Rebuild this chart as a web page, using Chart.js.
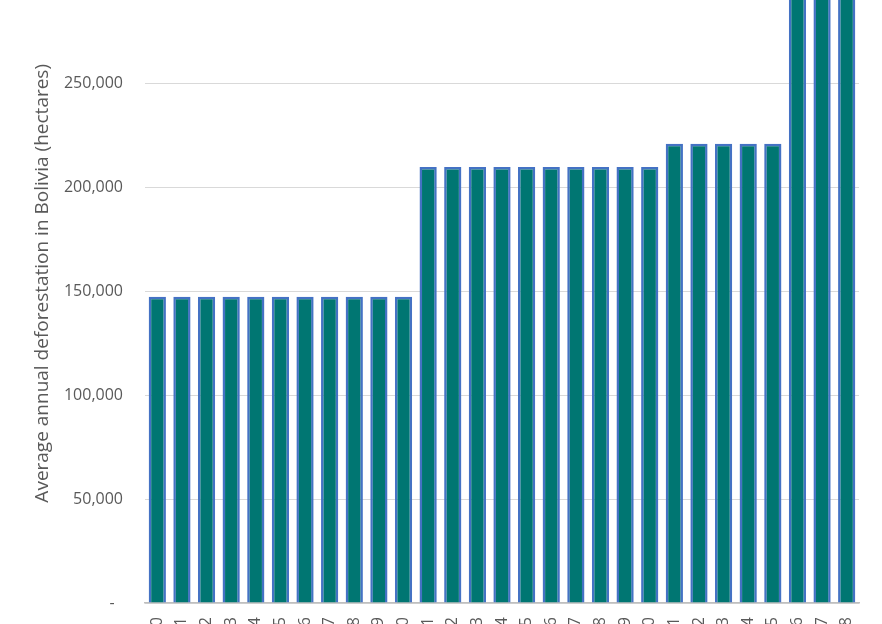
<!DOCTYPE html>
<html>
<head>
<meta charset="utf-8">
<script src="https://cdn.jsdelivr.net/npm/chart.js@4.4.0/dist/chart.umd.min.js"></script>
<style>
  html, body { margin: 0; padding: 0; background: #fff; }
  #frame { position: relative; width: 882px; height: 624px; overflow: hidden; }
  #wrap { position: absolute; left: 0; top: -68px; width: 882px; height: 748px; }
</style>
</head>
<body>
<div id="frame"><div id="wrap"><canvas id="graphCanvas"></canvas></div></div>
<script>
// years 1990 - 2018
var years = [];
for (var y = 1990; y <= 2018; y++) { years.push(String(y)); }

// average annual deforestation (hectares), per period
var deforestation = [
    147400, 147400, 147400, 147400, 147400, 147400, 147400, 147400, 147400, 147400, 147400,
    209800, 209800, 209800, 209800, 209800, 209800, 209800, 209800, 209800, 209800,
    221000, 221000, 221000, 221000, 221000,
    350000, 350000, 350000
];

var yTicks = [0, 50000, 100000, 150000, 200000, 250000, 300000];
var yMax = 307700;

var labelColor = '#595959';
var fontFamily = '"Open Sans", "Liberation Sans", sans-serif';

var graphTarget = document.getElementById('graphCanvas');

var barGraph = new Chart(graphTarget, {
    type: 'bar',
    data: {
        labels: years,
        datasets: [{
            label: 'Deforestation',
            data: deforestation,
            backgroundColor: '#007672',
            borderColor: '#4472c4',
            borderWidth: 2.5,
            borderSkipped: 'bottom',
            barPercentage: 0.7,
            categoryPercentage: 1.0
        }]
    },
    options: {
        responsive: true,
        maintainAspectRatio: false,
        animation: false,
        layout: { padding: { top: 10, right: 23, left: 0, bottom: 0 } },
        plugins: {
            legend: { display: false },
            tooltip: { enabled: false }
        },
        scales: {
            x: {
                grid: { display: false },
                border: { display: true, color: '#bfbfbf', width: 1.5 },
                ticks: {
                    color: labelColor,
                    font: { family: fontFamily, size: 16 },
                    minRotation: 90,
                    maxRotation: 90,
                    autoSkip: false,
                    padding: 6
                },
                afterFit: function(scale) { scale.height = 77; }
            },
            y: {
                min: 0,
                max: yMax,
                afterBuildTicks: function(scale) {
                    scale.ticks = yTicks.map(function(v) { return { value: v }; });
                },
                grid: { color: '#d9d9d9', lineWidth: 1, drawTicks: false },
                border: { display: false },
                ticks: {
                    color: labelColor,
                    font: { family: fontFamily, size: 16 },
                    padding: 22,
                    callback: function(value) {
                        if (value === 0) { return '-  '; }
                        return value.toLocaleString('en-US');
                    }
                },
                title: {
                    display: true,
                    text: 'Average annual deforestation in Bolivia (hectares)',
                    color: labelColor,
                    font: { family: fontFamily, size: 19 },
                    padding: { top: 31, bottom: 0 }
                },
                afterFit: function(scale) { scale.width = 145; }
            }
        }
    }
});
</script>
</body>
</html>
